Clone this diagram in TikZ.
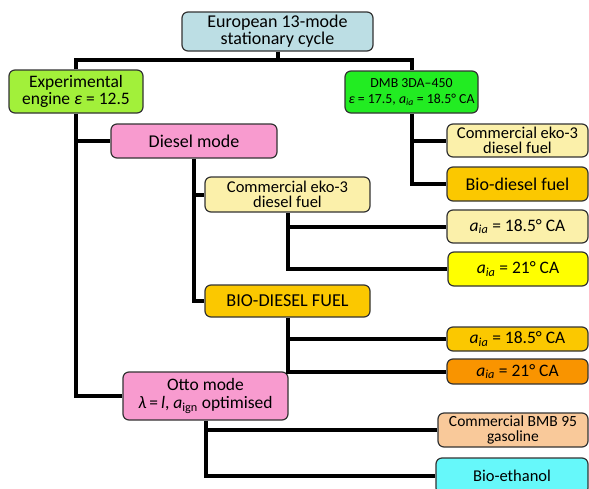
\documentclass[tikz,border=0pt]{standalone}
\usepackage{fontspec}
\setmainfont{Carlito}
\definecolor{cTop}{HTML}{BCDEE4}
\definecolor{cExp}{HTML}{A2F03A}
\definecolor{cDmb}{HTML}{22EC22}
\definecolor{cPink}{HTML}{F89BCF}
\definecolor{cLy}{HTML}{FBF0AA}
\definecolor{cBio}{HTML}{FBC800}
\definecolor{cYel}{HTML}{FFFF00}
\definecolor{cOra}{HTML}{F99400}
\definecolor{cPeach}{HTML}{F9C99A}
\definecolor{cCyan}{HTML}{66F8FA}
\tikzset{
  box/.style={draw=black!80, line width=1.2pt, rounded corners=6pt, inner sep=0pt, align=center, font=\fontsize{18}{17}\selectfont},
  conn/.style={line width=4pt, black},
}
\newcommand{\aia}{\textit{a}\textsubscript{\textit{ia}}}
\begin{document}
\begin{tikzpicture}[x=1pt,y=-1pt]
\useasboundingbox (0,0) rectangle (589,488);
\clip (0,0) rectangle (589,488);
\node[box, fill=cTop, minimum width=191pt, minimum height=39pt] (top) at (277.5,31.5) {European 13-mode\\stationary cycle};
\node[box, fill=cExp, minimum width=134pt, minimum height=43pt, font=\fontsize{17.5}{17}\selectfont] (exp) at (76,91.5) {Experimental\\engine \textit{ε} = 12.5};
\node[box, fill=cDmb, minimum width=133pt, minimum height=42pt, font=\fontsize{13.8}{15.5}\selectfont] (dmb) at (411.5,92) {DMB 3DA–450\\\textit{ε} = 17.5, \aia{} = 18.5° CA};
\node[box, fill=cPink, minimum width=166pt, minimum height=34pt, font=\fontsize{18}{18}\selectfont] (diesel) at (194,141) {Diesel mode};
\node[box, fill=cLy, minimum width=141pt, minimum height=33pt, font=\fontsize{16.5}{15.5}\selectfont] (c1) at (517.5,140.5) {Commercial eko-3\\diesel fuel};
\node[box, fill=cBio, minimum width=141pt, minimum height=34pt, font=\fontsize{18}{18}\selectfont] (c2) at (517.5,184) {Bio-diesel fuel};
\node[box, fill=cLy, minimum width=165pt, minimum height=35pt, font=\fontsize{16.5}{15.5}\selectfont] (comm1) at (287.5,194.5) {Commercial eko-3\\diesel fuel};
\node[box, fill=cLy, minimum width=141pt, minimum height=33pt, font=\fontsize{17.5}{17.5}\selectfont] (a1) at (517.5,226.5) {\aia{} = 18.5° CA};
\node[box, fill=cYel, minimum width=140pt, minimum height=34pt, font=\fontsize{17.5}{17.5}\selectfont] (a2) at (518,269) {\aia{} = 21° CA};
\node[box, fill=cBio, minimum width=165pt, minimum height=32pt, font=\fontsize{18.2}{18}\selectfont] (bio) at (287.5,301) {BIO-DIESEL FUEL};
\node[box, fill=cBio, minimum width=141pt, minimum height=24pt, font=\fontsize{17.5}{17.5}\selectfont] (b1) at (517.5,339) {\aia{} = 18.5° CA};
\node[box, fill=cOra, minimum width=141pt, minimum height=25pt, font=\fontsize{17.5}{17.5}\selectfont] (b2) at (517.5,371.5) {\aia{} = 21° CA};
\node[box, fill=cPink, minimum width=165pt, minimum height=48pt, font=\fontsize{17.5}{18}\selectfont] (otto) at (205.5,396) {Otto mode\\\textit{λ}\,=\,\textit{l}, \textit{a}\textsubscript{ign} optimised};
\node[box, fill=cPeach, minimum width=150pt, minimum height=34pt, font=\fontsize{15.5}{15.5}\selectfont] (gas) at (513,430) {Commercial BMB 95\\gasoline};
\node[box, fill=cCyan, minimum width=152pt, minimum height=36pt, font=\fontsize{16.5}{16.5}\selectfont] (eth) at (512,476) {Bio-ethanol};
% connectors
\coordinate (hub) at (277.5,60);
\draw[conn] (top.south) -- (hub);
\draw[conn] (exp.north) -- (exp.north |- hub) -- (dmb.north |- hub) -- (dmb.north);
\draw[conn] (exp.south) |- (otto.west);
\draw[conn] (exp.south |- diesel.west) -- (diesel.west);
\draw[conn] (diesel.south) |- (bio.west);
\draw[conn] (diesel.south |- comm1.west) -- (comm1.west);
\draw[conn] (comm1.south) |- (a2.west);
\draw[conn] (comm1.south |- a1.west) -- (a1.west);
\draw[conn] (bio.south) |- (b2.west);
\draw[conn] (bio.south |- b1.west) -- (b1.west);
\draw[conn] (otto.south) |- (eth.west);
\draw[conn] (otto.south |- gas.west) -- (gas.west);
\draw[conn] (dmb.south) |- (c2.west);
\draw[conn] (dmb.south |- c1.west) -- (c1.west);
\end{tikzpicture}
\end{document}
